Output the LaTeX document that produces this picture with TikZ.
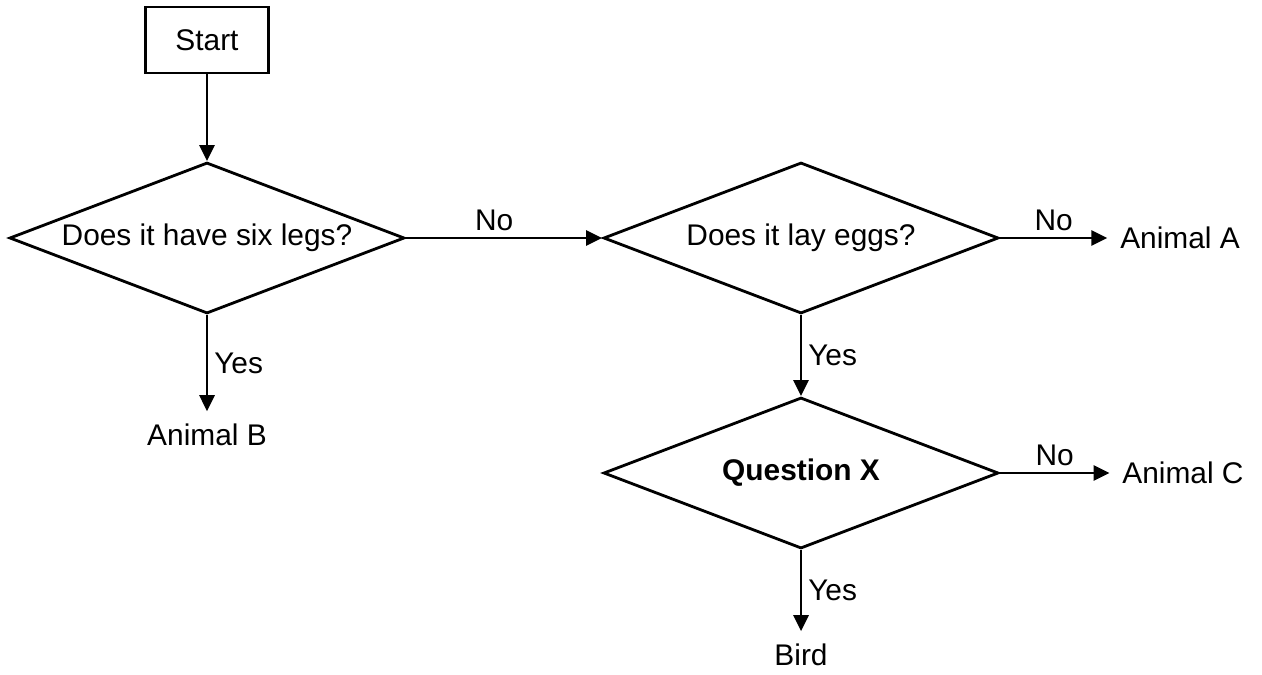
\documentclass[tikz,border=0pt]{standalone}
\usepackage{fontspec}
\setmainfont{Liberation Sans}
\usepackage{tikz}
\usetikzlibrary{shapes.geometric,arrows.meta}
\tikzset{
	decision/.style={diamond,draw=black,line width=1.6pt,inner sep=0pt,aspect=2.6,
		minimum width=7.9cm,minimum height=3.02cm,font=\fontsize{17}{20}\selectfont},
	startbox/.style={rectangle,draw=black,line width=1.6pt,
		minimum width=2.46cm,minimum height=1.32cm,font=\fontsize{17}{20}\selectfont},
	outcome/.style={inner sep=0.25cm,font=\fontsize{17}{20}\selectfont},
	link/.style={draw=black,line width=1.6pt,-{Triangle[length=0.32cm,width=0.3cm]}},
	answer/.style={font=\fontsize{17}{20}\selectfont},
}

\begin{document}
\begin{tikzpicture}
	\useasboundingbox (0,0) rectangle (25.24,-13.48);
	% boxes and questions
	\node[startbox] (start) at (4.14,-0.80) {Start};
	\node[decision] (legs) at (4.14,-4.76) {Does it have six legs?};
	\node[decision] (eggs) at (16.02,-4.76) {Does it lay eggs?};
	\node[decision] (qx) at (16.02,-9.46) {\textbf{Question X}};
	% end points
	\node[outcome] (animalA) at (23.6,-4.76) {Animal A};
	\node[outcome] (animalB) at (4.14,-8.70) {Animal B};
	\node[outcome] (animalC) at (23.66,-9.46) {Animal C};
	\node[outcome] (bird) at (16.02,-13.10) {Bird};
	% arrows
	\draw[link] (start) -- (legs);
	\draw[link] (legs.east) -- node[answer,above,pos=0.45] {No} (eggs.west);
	\draw[link] (legs.south) -- node[answer,right] {Yes} (animalB.north);
	\draw[link] (eggs.east) -- node[answer,above] {No} (animalA.west);
	\draw[link] (eggs.south) -- node[answer,right] {Yes} (qx.north);
	\draw[link] (qx.east) -- node[answer,above] {No} (animalC.west);
	\draw[link] (qx.south) -- node[answer,right] {Yes} (bird.north);
\end{tikzpicture}
\end{document}
